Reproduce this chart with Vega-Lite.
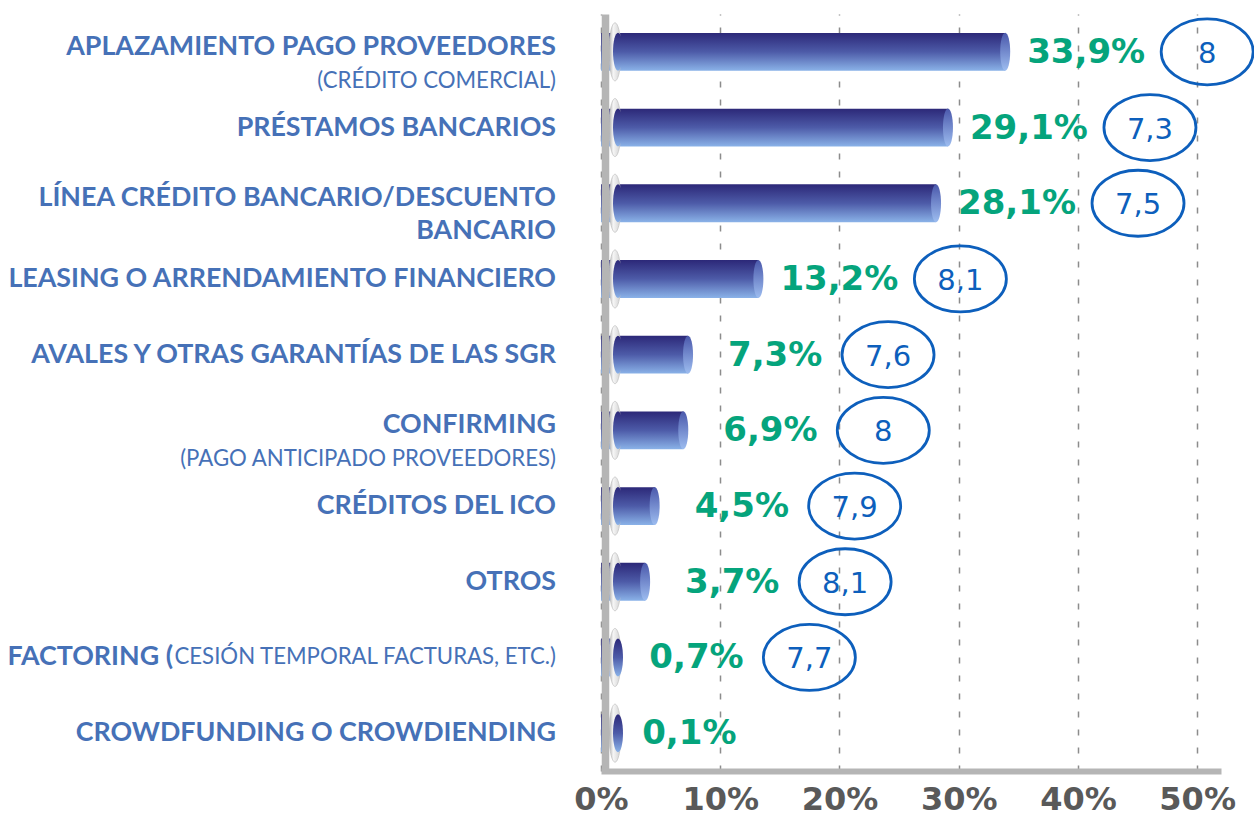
{
  "$schema": "https://vega.github.io/schema/vega-lite/v6.json",
  "width": 620,
  "height": 757,
  "autosize": {"type": "none"},
  "padding": {"left": 601, "top": 14, "right": 33, "bottom": 51},
  "background": "white",
  "config": {"view": {"stroke": null}, "font": "Lato"},
  "data": {
    "values": [
      {"cat": "APLAZAMIENTO PAGO PROVEEDORES (CRÉDITO COMERCIAL)", "t1": "APLAZAMIENTO PAGO PROVEEDORES", "t2": "(CRÉDITO COMERCIAL)", "pct": 33.9, "pl": "33,9%", "score": "8"},
      {"cat": "PRÉSTAMOS BANCARIOS", "t1": "PRÉSTAMOS BANCARIOS", "pct": 29.1, "pl": "29,1%", "score": "7,3"},
      {"cat": "LÍNEA CRÉDITO BANCARIO/DESCUENTO BANCARIO", "t1": "LÍNEA CRÉDITO BANCARIO/DESCUENTO", "t2b": "BANCARIO", "pct": 28.1, "pl": "28,1%", "score": "7,5"},
      {"cat": "LEASING O ARRENDAMIENTO FINANCIERO", "t1": "LEASING O ARRENDAMIENTO FINANCIERO", "pct": 13.2, "pl": "13,2%", "score": "8,1"},
      {"cat": "AVALES Y OTRAS GARANTÍAS DE LAS SGR", "t1": "AVALES Y OTRAS GARANTÍAS DE LAS SGR", "pct": 7.3, "pl": "7,3%", "score": "7,6"},
      {"cat": "CONFIRMING (PAGO ANTICIPADO PROVEEDORES)", "t1": "CONFIRMING", "t2": "(PAGO ANTICIPADO PROVEEDORES)", "pct": 6.9, "pl": "6,9%", "score": "8"},
      {"cat": "CRÉDITOS DEL ICO", "t1": "CRÉDITOS DEL ICO", "pct": 4.5, "pl": "4,5%", "score": "7,9"},
      {"cat": "OTROS", "t1": "OTROS", "pct": 3.7, "pl": "3,7%", "score": "8,1"},
      {"cat": "FACTORING (CESIÓN TEMPORAL FACTURAS, ETC.)", "t1": "FACTORING (", "t1r": "CESIÓN TEMPORAL FACTURAS, ETC.)", "pct": 0.7, "pl": "0,7%", "score": "7,7"},
      {"cat": "CROWDFUNDING O CROWDIENDING", "t1": "CROWDFUNDING O CROWDIENDING", "pct": 0.1, "pl": "0,1%", "score": null}
    ]
  },
  "encoding": {
    "y": {
      "field": "cat", "type": "nominal", "sort": null,
      "scale": {"paddingInner": 0.5, "paddingOuter": 0.25},
      "axis": {"labels": false, "ticks": false, "title": null, "domainColor": "#b5b5b5", "domainWidth": 7.5, "offset": -4, "grid": false, "zindex": 1}
    }
  },
  "layer": [
    {
      "mark": {"type": "bar",
        "color": {"gradient": "linear", "x1": 0, "y1": 0, "x2": 0, "y2": 1, "stops": [{"offset": 0, "color": "#2c2878"}, {"offset": 0.5, "color": "#4d5ba8"}, {"offset": 1, "color": "#8ab2e8"}]}},
      "encoding": {
        "x": {
          "field": "pct", "type": "quantitative",
          "scale": {"domain": [0, 52], "nice": false, "zero": true},
          "axis": {
            "values": [0, 10, 20, 30, 40, 50],
            "labelExpr": "datum.value + '%'",
            "title": null, "ticks": false,
            "domainColor": "#b5b5b5", "domainWidth": 6,
            "grid": true, "gridColor": "#8c8c8c", "gridDash": [6, 12], "gridWidth": 1.5,
            "labelFont": "DejaVu Sans", "labelFontSize": 32, "labelFontWeight": "bold", "labelColor": "#595959",
            "labelPadding": 13, "labelFlush": false
          }
        }
      }
    },
    {
      "transform": [{"filter": "datum.pct > 0.5"}],
      "mark": {"type": "point", "filled": true, "size": 1444,
        "shape": "M0.263,0 C0.263,0.552 0.145,1 0,1 C-0.145,1 -0.263,0.552 -0.263,0 C-0.263,-0.552 -0.145,-1 0,-1 C0.145,-1 0.263,-0.552 0.263,0 Z",
        "fill": {"gradient": "linear", "x1": 0, "y1": 0, "x2": 0, "y2": 1, "stops": [{"offset": 0, "color": "#4a58ab"}, {"offset": 1, "color": "#9dbdf0"}]},
        "opacity": 1},
      "encoding": {"x": {"field": "pct", "type": "quantitative"}}
    },
    {
      "mark": {"type": "point", "filled": true, "size": 3364,
        "shape": "M0.690,0 C0.690,0.552 0.597,1 0.483,1 C0.369,1 0.276,0.552 0.276,0 C0.276,-0.552 0.369,-1 0.483,-1 C0.597,-1 0.690,-0.552 0.690,0 Z",
        "fill": {"gradient": "linear", "x1": 0, "y1": 0, "x2": 1, "y2": 0, "stops": [{"offset": 0, "color": "#a8a8a8"}, {"offset": 0.35, "color": "#f6f6f6"}, {"offset": 1, "color": "#cfcfcf"}]},
        "stroke": "#c4c4c4", "strokeWidth": 0.8, "opacity": 1},
      "encoding": {"x": {"datum": 0, "type": "quantitative"}}
    },
    {
      "mark": {"type": "point", "filled": true, "size": 1444,
        "shape": "M1.158,0 C1.158,0.552 1.040,1 0.895,1 C0.750,1 0.632,0.552 0.632,0 C0.632,-0.552 0.750,-1 0.895,-1 C1.040,-1 1.158,-0.552 1.158,0 Z",
        "fill": {"gradient": "linear", "x1": 0, "y1": 0, "x2": 0, "y2": 1, "stops": [{"offset": 0, "color": "#2c2878"}, {"offset": 0.5, "color": "#4d5ba8"}, {"offset": 1, "color": "#8ab2e8"}]},
        "opacity": 1},
      "encoding": {"x": {"datum": 0, "type": "quantitative"}}
    },
    {
      "transform": [{"filter": "!datum.t2 && !datum.t2b && !datum.t1r"}],
      "mark": {"type": "text", "align": "right", "baseline": "middle", "dx": -45, "font": "Lato", "fontSize": 26.8, "fontWeight": "bold", "color": "#4671b7"},
      "encoding": {"x": {"datum": 0, "type": "quantitative"}, "text": {"field": "t1"}}
    },
    {
      "transform": [{"filter": "datum.t2 || datum.t2b"}],
      "mark": {"type": "text", "align": "right", "baseline": "middle", "dx": -45, "dy": -5, "font": "Lato", "fontSize": 26.8, "fontWeight": "bold", "color": "#4671b7"},
      "encoding": {"x": {"datum": 0, "type": "quantitative"}, "text": {"field": "t1"}}
    },
    {
      "transform": [{"filter": "datum.t2"}],
      "mark": {"type": "text", "align": "right", "baseline": "middle", "dx": -45, "dy": 29, "font": "Lato", "fontSize": 22.2, "fontWeight": "normal", "color": "#4671b7"},
      "encoding": {"x": {"datum": 0, "type": "quantitative"}, "text": {"field": "t2"}}
    },
    {
      "transform": [{"filter": "datum.t2b"}],
      "mark": {"type": "text", "align": "right", "baseline": "middle", "dx": -45, "dy": 28, "font": "Lato", "fontSize": 26.8, "fontWeight": "bold", "color": "#4671b7"},
      "encoding": {"x": {"datum": 0, "type": "quantitative"}, "text": {"field": "t2b"}}
    },
    {
      "transform": [{"filter": "datum.t1r"}],
      "mark": {"type": "text", "align": "right", "baseline": "middle", "dx": -45, "font": "Lato", "fontSize": 22.2, "fontWeight": "normal", "color": "#4671b7"},
      "encoding": {"x": {"datum": 0, "type": "quantitative"}, "text": {"field": "t1r"}}
    },
    {
      "transform": [{"filter": "datum.t1r"}],
      "mark": {"type": "text", "align": "right", "baseline": "middle", "dx": -428, "font": "Lato", "fontSize": 26.8, "fontWeight": "bold", "color": "#4671b7"},
      "encoding": {"x": {"datum": 0, "type": "quantitative"}, "text": {"field": "t1"}}
    },
    {
      "transform": [{"filter": "datum.pct >= 10"}],
      "mark": {"type": "text", "align": "left", "baseline": "middle", "dx": 22, "dy": 1, "font": "DejaVu Sans", "fontSize": 34, "fontWeight": "bold", "color": "#05a47c"},
      "encoding": {"x": {"field": "pct", "type": "quantitative"}, "text": {"field": "pl"}}
    },
    {
      "transform": [{"filter": "datum.pct < 10"}],
      "mark": {"type": "text", "align": "left", "baseline": "middle", "dx": 40, "dy": 1, "font": "DejaVu Sans", "fontSize": 34, "fontWeight": "bold", "color": "#05a47c"},
      "encoding": {"x": {"field": "pct", "type": "quantitative"}, "text": {"field": "pl"}}
    },
    {
      "transform": [{"filter": "datum.pct >= 10 && datum.score"}],
      "mark": {"type": "point", "filled": false, "size": 4356, "strokeWidth": 2.8, "color": "#0d5fbc", "opacity": 1,
        "shape": "M7.515,0 C7.515,0.552 6.891,1 6.121,1 C5.351,1 4.727,0.552 4.727,0 C4.727,-0.552 5.351,-1 6.121,-1 C6.891,-1 7.515,-0.552 7.515,0 Z"},
      "encoding": {"x": {"field": "pct", "type": "quantitative"}}
    },
    {
      "transform": [{"filter": "datum.pct < 10 && datum.score"}],
      "mark": {"type": "point", "filled": false, "size": 4356, "strokeWidth": 2.8, "color": "#0d5fbc", "opacity": 1,
        "shape": "M7.455,0 C7.455,0.552 6.831,1 6.061,1 C5.291,1 4.667,0.552 4.667,0 C4.667,-0.552 5.291,-1 6.061,-1 C6.831,-1 7.455,-0.552 7.455,0 Z"},
      "encoding": {"x": {"field": "pct", "type": "quantitative"}}
    },
    {
      "transform": [{"filter": "datum.pct >= 10 && datum.score"}],
      "mark": {"type": "text", "align": "center", "baseline": "middle", "dx": 202, "dy": 2, "font": "DejaVu Sans", "fontSize": 29, "color": "#0d5fbc"},
      "encoding": {"x": {"field": "pct", "type": "quantitative"}, "text": {"field": "score"}}
    },
    {
      "transform": [{"filter": "datum.pct < 10 && datum.score"}],
      "mark": {"type": "text", "align": "center", "baseline": "middle", "dx": 200, "dy": 2, "font": "DejaVu Sans", "fontSize": 29, "color": "#0d5fbc"},
      "encoding": {"x": {"field": "pct", "type": "quantitative"}, "text": {"field": "score"}}
    }
  ]
}
